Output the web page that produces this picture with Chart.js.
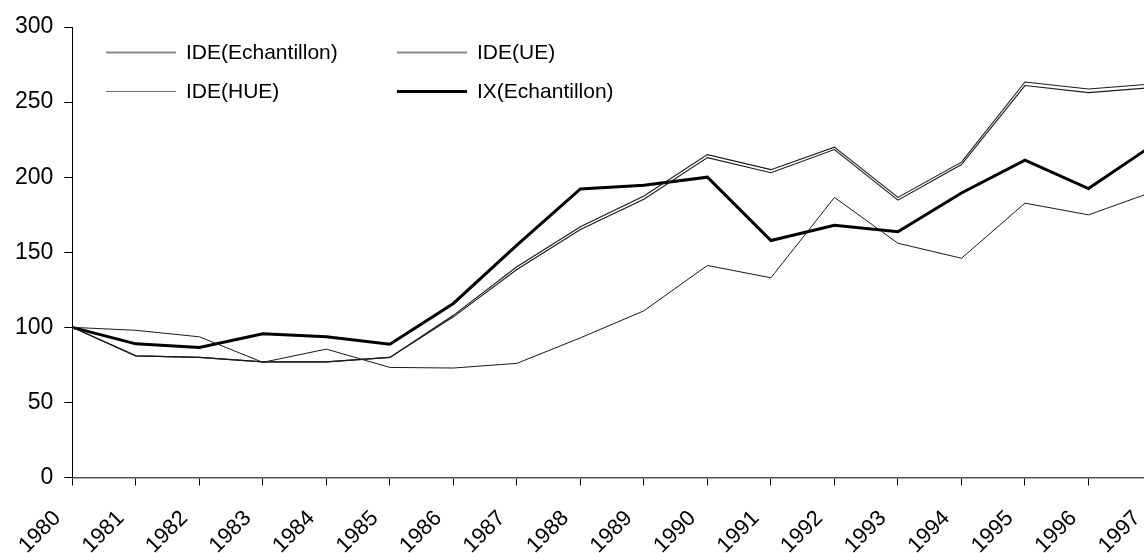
<!DOCTYPE html>
<html>
<head>
<meta charset="utf-8">
<script src="https://cdn.jsdelivr.net/npm/chart.js@4/dist/chart.umd.min.js"></script>
<style>
html,body{margin:0;padding:0;background:#fff;overflow:hidden;width:1144px;height:553px;}
#wrap{position:absolute;left:0;top:0;width:1160px;height:553px;}
</style>
</head>
<body>
<div id="wrap"><canvas id="c" width="1160" height="553"></canvas></div>
<script>
// ---- data ----
const years = ["1980","1981","1982","1983","1984","1985","1986","1987","1988","1989","1990","1991","1992","1993","1994","1995","1996","1997"];
const seriesNames = ["IDE(Echantillon)", "IDE(UE)", "IDE(HUE)", "IX(Echantillon)"];
const ideEchantillon = [100, 81, 80, 77, 77, 80, 108, 140.3, 167, 187.5, 215, 205, 220, 186.5, 210, 263.4, 258.7, 262];
const ideUE          = [100, 81, 80, 77, 77, 80, 107, 138.5, 165.2, 185.3, 213, 203, 218.4, 184.7, 208.4, 261, 256.3, 259.6];
const ideHUE         = [100, 98, 93.7, 76.7, 85.5, 73.3, 72.9, 76, 93, 111, 141.2, 133, 186.5, 156, 146, 182.7, 174.9, 190];
const ixEchantillon  = [100, 89, 86.6, 95.7, 93.7, 88.8, 115.9, 154.7, 192.2, 194.6, 200, 157.8, 168, 163.6, 189.5, 211.3, 192.4, 221];
const yTicks = [0, 50, 100, 150, 200, 250, 300];

const FONT = "'Liberation Sans', Arial, sans-serif";

// custom legend drawn inside the plot area
const legendStyles = [
  {color:'#8a8a8a', width:2, x:106, y:52.5},
  {color:'#8a8a8a', width:2, x:397, y:52.5},
  {color:'#6a6a6a', width:1, x:106, y:91.5},
  {color:'#000000', width:3, x:397, y:91.5}
];
const insideLegend = {
  id:'insideLegend',
  afterDraw(chart){
    const ctx = chart.ctx;
    ctx.save();
    ctx.font = '21px ' + FONT;
    ctx.textBaseline = 'middle';
    ctx.fillStyle = '#000';
    chart.data.datasets.forEach((ds, i) => {
      const s = legendStyles[i];
      ctx.beginPath();
      ctx.strokeStyle = s.color;
      ctx.lineWidth = s.width;
      ctx.moveTo(s.x, s.y);
      ctx.lineTo(s.x + 70, s.y);
      ctx.stroke();
      ctx.fillText(ds.label, s.x + 80, s.y + 1);
    });
    ctx.restore();
  }
};

new Chart(document.getElementById('c'), {
  type:'line',
  data:{
    labels: years,
    datasets:[
      {label: seriesNames[0], data: ideEchantillon, borderColor:'#1a1a1a', borderWidth:1.1},
      {label: seriesNames[1], data: ideUE, borderColor:'#1a1a1a', borderWidth:1.1},
      {label: seriesNames[2], data: ideHUE, borderColor:'#1a1a1a', borderWidth:1},
      {label: seriesNames[3], data: ixEchantillon, borderColor:'#000', borderWidth:3}
    ]
  },
  options:{
    responsive:false,
    animation:false,
    devicePixelRatio:1,
    layout:{padding:{top:27, right:8, left:0, bottom:0}},
    elements:{point:{radius:0}, line:{tension:0, borderJoinStyle:'miter'}},
    plugins:{legend:{display:false}, tooltip:{enabled:false}},
    scales:{
      x:{
        offset:false,
        grid:{display:true, drawOnChartArea:false, drawTicks:true, tickLength:8, color:'#000'},
        border:{display:true, color:'#555', width:1.5},
        ticks:{autoSkip:false, minRotation:45, maxRotation:45, color:'#000', font:{family:FONT, size:22}, padding:20, labelOffset:-15},
        afterFit(s){ s.height = 75.5; s.paddingLeft = 0; s.paddingRight = 0; }
      },
      y:{
        min:0, max:300,
        afterBuildTicks(s){ s.ticks = yTicks.map(v => ({value:v})); },
        grid:{display:true, drawOnChartArea:false, drawTicks:true, tickLength:8, color:'#000'},
        border:{display:true, color:'#000', width:1},
        ticks:{color:'#000', font:{family:FONT, size:23}, padding:11},
        afterFit(s){ s.width = 72.3; }
      }
    }
  },
  plugins:[insideLegend]
});
</script>
</body>
</html>
